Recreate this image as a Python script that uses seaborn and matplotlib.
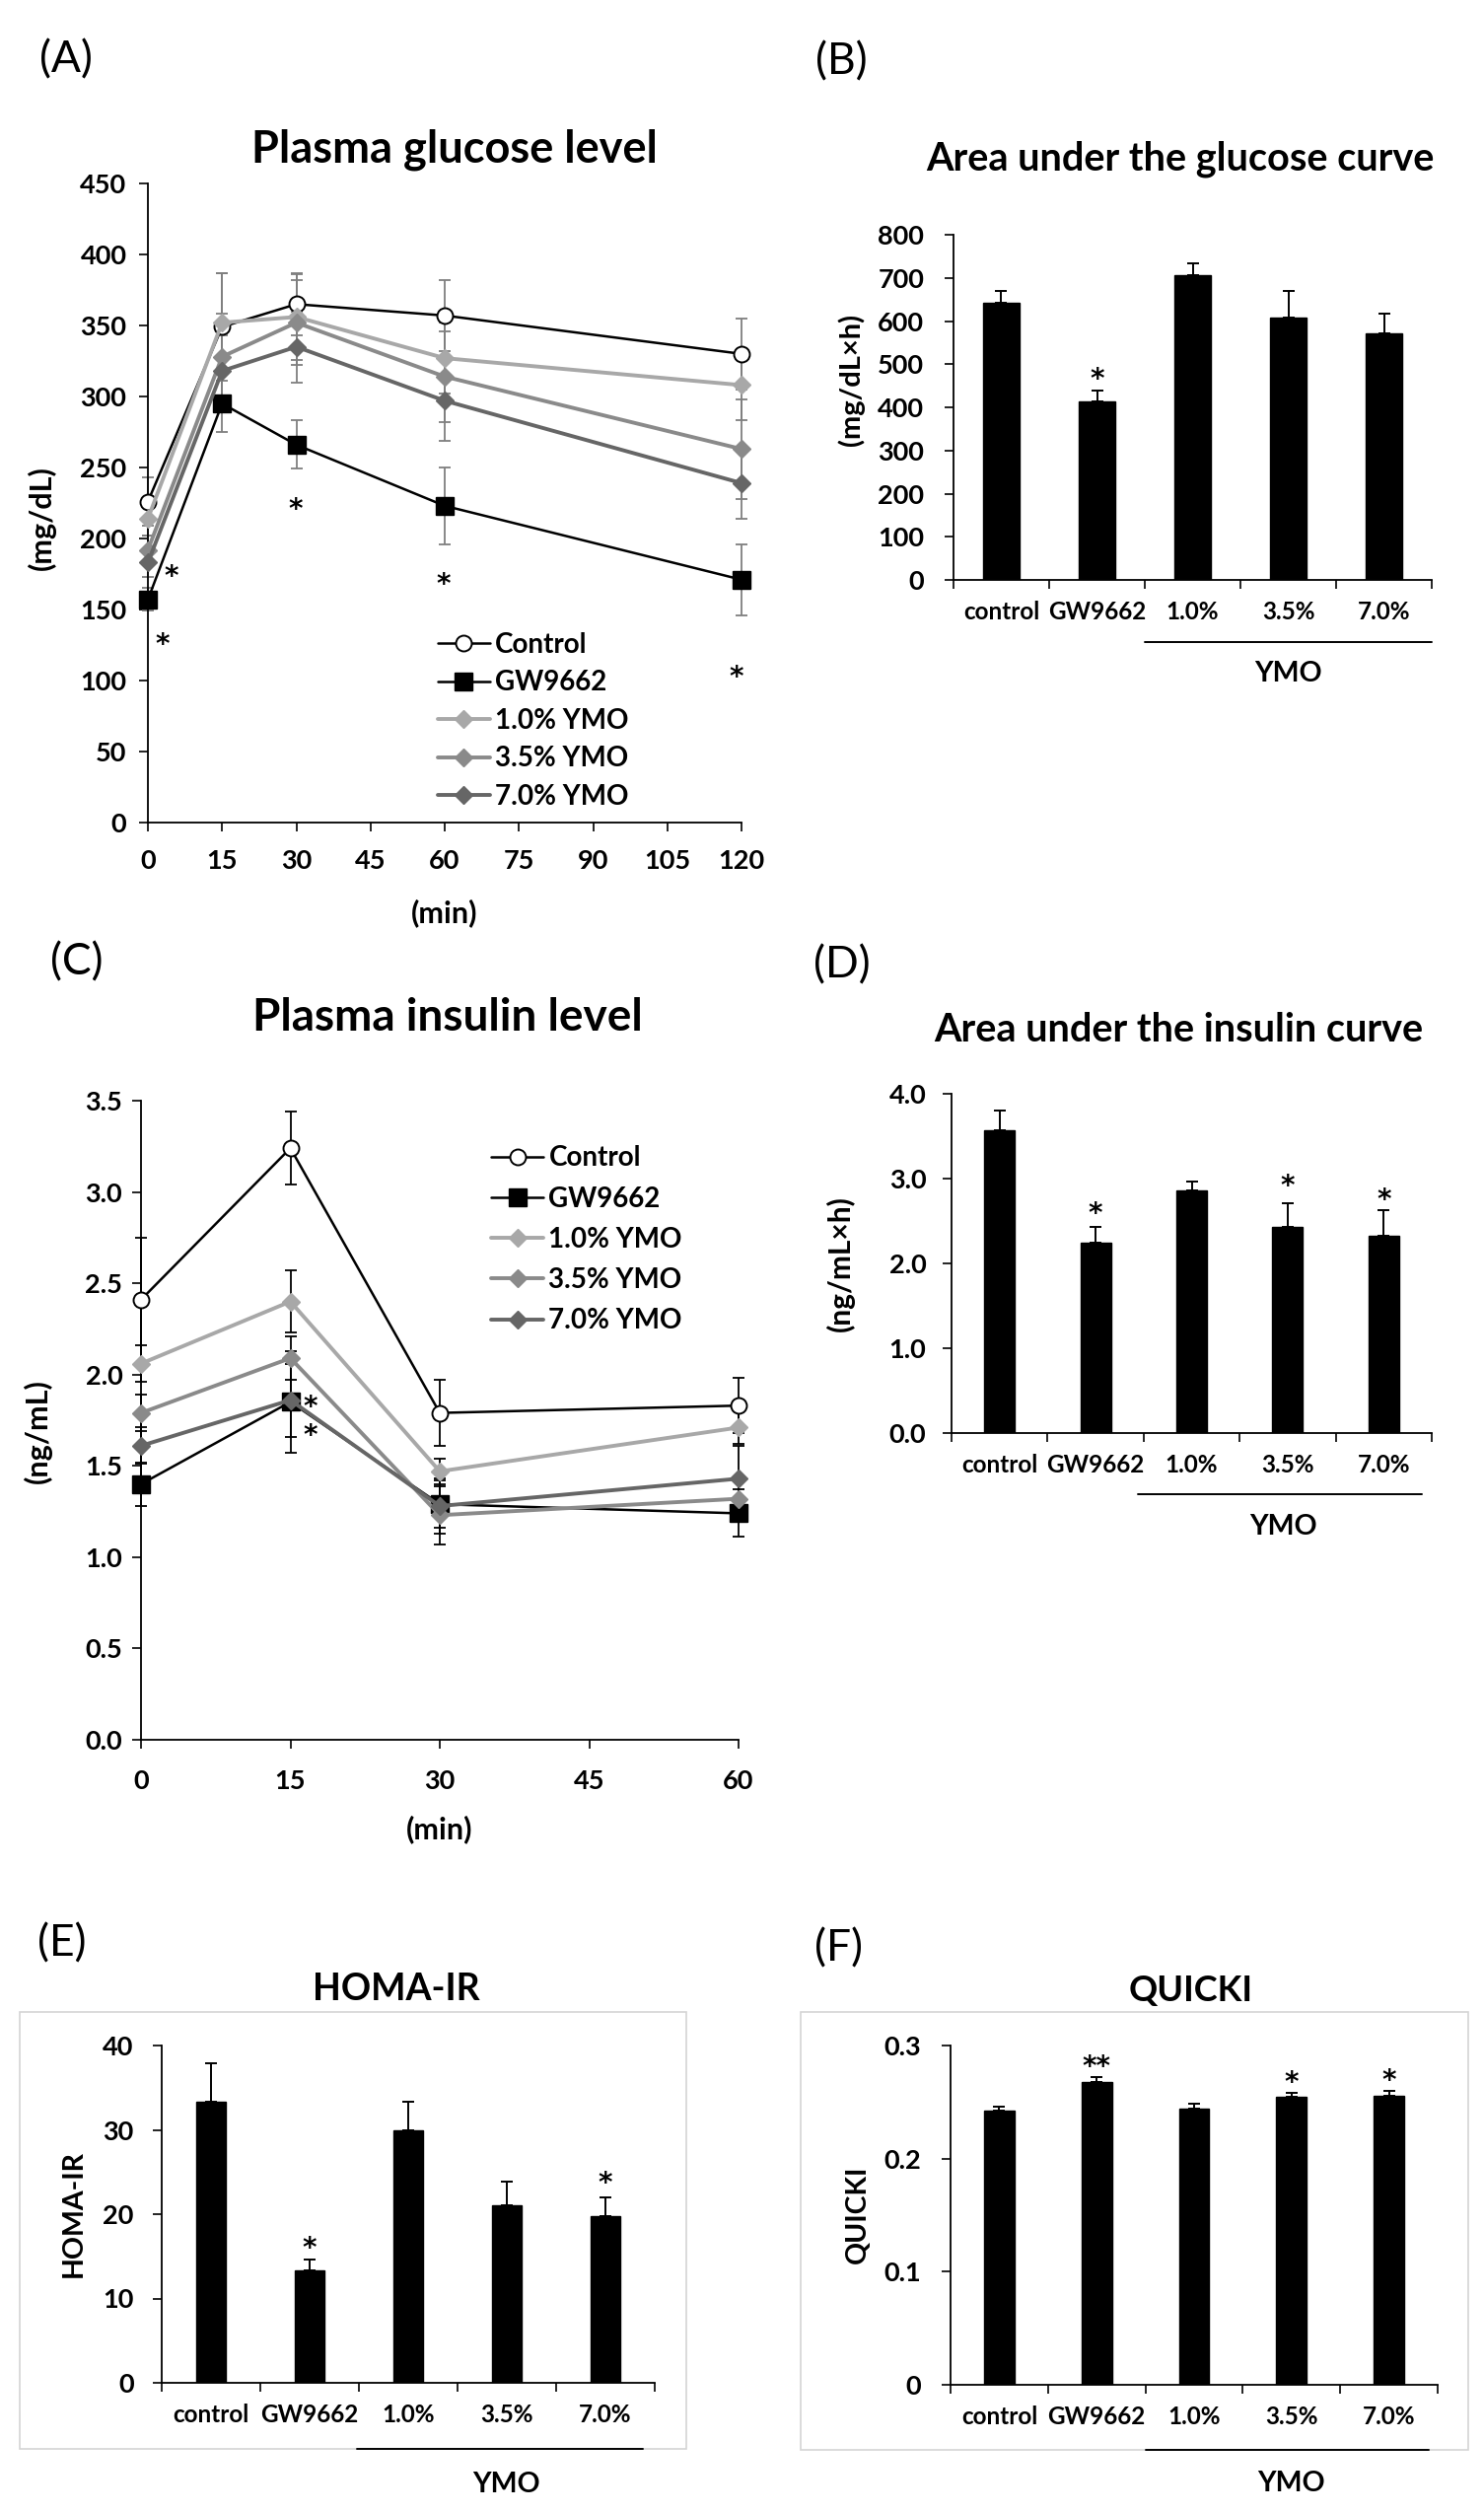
import numpy as np
import pandas as pd
import matplotlib
matplotlib.use("Agg")
import matplotlib.pyplot as plt
import matplotlib.ticker as mticker
import matplotlib.transforms as mtrans
from matplotlib.lines import Line2D
from matplotlib.patches import Rectangle
import seaborn as sns

# ---------------- data ----------------
groups = ["Control", "GW9662", "1.0% YMO", "3.5% YMO", "7.0% YMO"]
bar_labels = ["control", "GW9662", "1.0%", "3.5%", "7.0%"]

glu_time = [0, 15, 30, 60, 120]
glu_control = [226, 349, 365, 357, 330]
glu_gw = [157, 295, 266, 223, 171]
glu_y10 = [214, 352, 356, 327, 308]
glu_y35 = [192, 328, 352, 314, 263]
glu_y70 = [183, 318, 335, 297, 239]
glu_control_err = [17, 38, 22, 25, 25]
glu_gw_err = [8, 20, 17, 27, 25]
glu_y10_err = [12, 35, 30, 25, 25]
glu_y35_err = [10, 30, 30, 32, 35]
glu_y70_err = [10, 25, 25, 28, 25]
glu_star_x = [4.8, 3.0, 29.8, 59.8, 119.0]
glu_star_y = [178, 130, 225, 172, 107]

ins_time = [0, 15, 30, 60]
ins_control = [2.41, 3.24, 1.79, 1.83]
ins_gw = [1.40, 1.85, 1.29, 1.24]
ins_y10 = [2.06, 2.40, 1.47, 1.71]
ins_y35 = [1.79, 2.09, 1.23, 1.32]
ins_y70 = [1.61, 1.86, 1.28, 1.43]
ins_control_err = [0.34, 0.20, 0.18, 0.15]
ins_gw_err = [0.12, 0.28, 0.13, 0.13]
ins_y10_err = [0.10, 0.17, 0.07, 0.09]
ins_y35_err = [0.10, 0.12, 0.16, 0.10]
ins_y70_err = [0.10, 0.20, 0.15, 0.18]
ins_star_x = [17.0, 17.0]
ins_star_y = [1.86, 1.70]

auc_glu = [643, 414, 706, 607, 571]
auc_glu_err = [26, 26, 27, 62, 46]
auc_glu_stars = {1: ("*", 481)}

auc_ins = [3.575, 2.24, 2.865, 2.43, 2.33]
auc_ins_err = [0.23, 0.19, 0.10, 0.28, 0.30]
auc_ins_stars = {1: ("*", 2.66), 3: ("*", 2.99), 4: ("*", 2.83)}

homa = [33.3, 13.3, 30.0, 21.1, 19.8]
homa_err = [4.6, 1.3, 3.3, 2.8, 2.2]
homa_stars = {1: ("*", 16.7), 4: ("*", 24.4)}

quicki = [0.2422, 0.2678, 0.2443, 0.2545, 0.2555]
quicki_err = [0.004, 0.004, 0.004, 0.004, 0.004]
quicki_stars = {1: ("**", 0.287), 3: ("*", 0.273), 4: ("*", 0.2748)}

# ---------------- style ----------------
sns.set_theme(style="white")
plt.rcParams["font.family"] = ["Lato", "DejaVu Sans"]
plt.rcParams["font.weight"] = "bold"
for k in ["text.color", "axes.labelcolor", "xtick.color", "ytick.color", "axes.edgecolor"]:
    plt.rcParams[k] = "black"

W, H = 1505, 2548
fig = plt.figure(figsize=(W / 100, H / 100), dpi=100)
fig.patch.set_facecolor("white")

STAR_FONT = dict(family=["DejaVu Sans"], fontsize=20, fontweight="bold")


def px_ax(l, t, r, b):
    return fig.add_axes([l / W, 1 - b / H, (r - l) / W, (b - t) / H])


def ftext(x, y, s, **kw):
    fig.text(x / W, 1 - y / H, s, ha="center", va="center", **kw)


def star(ax, x, y, s, tr=None):
    base = ax.transData if tr is None else tr
    t = mtrans.offset_copy(base, fig=fig, x=0, y=-5, units="points")
    ax.text(x, y, s, ha="center", va="center", transform=t, **STAR_FONT)


def base_style(ax, ypad):
    sns.despine(ax=ax)
    for sp in ["left", "bottom"]:
        ax.spines[sp].set_linewidth(1.3)
        ax.spines[sp].set_color("black")
    ax.tick_params(axis="y", which="major", direction="out", length=6.5, width=1.2,
                   labelsize=19.5, pad=ypad, left=True)
    ax.set_xlabel("")
    ax.set_ylabel("")
    ax.set_facecolor("white")


styles = {
    "Control": dict(color="black", marker="o", markerfacecolor="white", markeredgecolor="black",
                    markersize=11.5, markeredgewidth=1.4, linewidth=1.8),
    "GW9662": dict(color="black", marker="s", markerfacecolor="black", markeredgecolor="black",
                   markersize=13, markeredgewidth=1, linewidth=1.8),
    "1.0% YMO": dict(color="#A8A8A8", marker="D", markerfacecolor="#A8A8A8", markeredgecolor="#A8A8A8",
                     markersize=9, markeredgewidth=1, linewidth=2.8),
    "3.5% YMO": dict(color="#8A8A8A", marker="D", markerfacecolor="#8A8A8A", markeredgecolor="#8A8A8A",
                     markersize=9, markeredgewidth=1, linewidth=2.8),
    "7.0% YMO": dict(color="#666666", marker="D", markerfacecolor="#666666", markeredgecolor="#666666",
                     markersize=9, markeredgewidth=1, linewidth=2.8),
}


def line_panel(ax, x, series, errs, ecolor, xmax, ymax, ystep, yfmt, stars_x, stars_y,
               leg_anchor, leg_spacing, ypad, xpad):
    for i, (g, vals) in enumerate(zip(groups, series)):
        ax.errorbar(x, vals, yerr=errs[i], fmt="none", ecolor=ecolor, elinewidth=1.3,
                    capsize=4.5, capthick=1.3, zorder=2, clip_on=False)
    for i, (g, vals) in enumerate(zip(groups, series)):
        sns.lineplot(x=x, y=vals, ax=ax, errorbar=None, zorder=3 + i, clip_on=False, **styles[g])
    ax.set_xlim(0, xmax)
    ax.set_ylim(0, ymax)
    ax.set_xticks(np.arange(0, xmax + 1, 15))
    ax.set_yticks(np.arange(0, ymax + ystep / 2, ystep))
    ax.yaxis.set_major_formatter(mticker.FormatStrFormatter(yfmt))
    base_style(ax, ypad)
    ax.tick_params(axis="x", which="major", direction="out", length=6.5, width=1.2,
                   labelsize=19.5, pad=xpad, bottom=True)
    for sx, sy in zip(stars_x, stars_y):
        star(ax, sx, sy, "*")
    handles = [Line2D([], [], **styles[g]) for g in groups]
    ax.legend(handles, groups, loc="upper left", bbox_to_anchor=leg_anchor, frameon=False,
              handlelength=1.9, handletextpad=0.2, labelspacing=leg_spacing, borderpad=0,
              borderaxespad=0, prop=dict(size=20, weight="bold"))


def bar_panel(ax, vals, errs, width, ymax, ystep, fmt, stars, ypad, ymo_x, ymo_line_y, ymo_text_y,
              ymo_text_x):
    sns.barplot(x=bar_labels, y=vals, ax=ax, color="black", saturation=1, width=width,
                errorbar=None, edgecolor="black", zorder=2)
    pos = np.arange(len(vals))
    ax.errorbar(pos, vals, yerr=[np.zeros(len(vals)), errs], fmt="none", ecolor="black",
                elinewidth=1.4, capsize=4.2, capthick=1.4, zorder=3)
    ax.set_xlim(-0.5, len(vals) - 0.5)
    ax.set_ylim(0, ymax)
    ax.set_yticks(np.arange(0, ymax + ystep / 2, ystep))
    ax.yaxis.set_major_formatter(fmt)
    base_style(ax, ypad)
    ax.xaxis.set_major_locator(mticker.FixedLocator(np.arange(-0.5, len(vals), 1)))
    ax.xaxis.set_major_formatter(mticker.NullFormatter())
    ax.xaxis.set_minor_locator(mticker.FixedLocator(pos))
    ax.xaxis.set_minor_formatter(mticker.FixedFormatter(bar_labels))
    ax.tick_params(axis="x", which="major", direction="out", length=6.5, width=1.2, bottom=True)
    ax.tick_params(axis="x", which="minor", length=0, pad=15, labelsize=17.5, bottom=True)
    for k, (s, y) in stars.items():
        star(ax, k, y, s)
    tr = mtrans.blended_transform_factory(ax.transData, ax.transAxes)
    ax.plot(ymo_x, [ymo_line_y, ymo_line_y], color="black", lw=1.4, transform=tr, clip_on=False)
    ax.text(ymo_text_x, ymo_text_y, "YMO", transform=tr, ha="center", va="center",
            fontsize=20.5, fontweight="bold")


def zero_fmt(v, p):
    return "0" if abs(v) < 1e-9 else f"{v:.1f}"


# ---------------- panel A ----------------
axA = px_ax(150, 186, 752, 834)
line_panel(axA, glu_time, [glu_control, glu_gw, glu_y10, glu_y35, glu_y70],
           [glu_control_err, glu_gw_err, glu_y10_err, glu_y35_err, glu_y70_err],
           "#7F7F7F", 120, 450, 50, "%d", glu_star_x, glu_star_y,
           (0.488, 0.298), 0.45, 9, 13)
ftext(67, 61, "(A)", fontsize=32, fontweight="normal")
ftext(461, 152, "Plasma glucose level", fontsize=32.5, fontweight="bold")
ftext(42, 525, "(mg/dL)", fontsize=22, fontweight="bold", rotation=90)
ftext(451, 926, "(min)", fontsize=22, fontweight="bold")

# ---------------- panel C ----------------
axC = px_ax(143, 1116, 749, 1764)
line_panel(axC, ins_time, [ins_control, ins_gw, ins_y10, ins_y35, ins_y70],
           [ins_control_err, ins_gw_err, ins_y10_err, ins_y35_err, ins_y70_err],
           "black", 60, 3.5, 0.5, "%.1f", ins_star_x, ins_star_y,
           (0.586, 0.93), 0.55, 7, 15)
ftext(78, 976, "(C)", fontsize=32, fontweight="normal")
ftext(454, 1032, "Plasma insulin level", fontsize=33, fontweight="bold")
ftext(38, 1451, "(ng/mL)", fontsize=22, fontweight="bold", rotation=90)
ftext(446, 1855, "(min)", fontsize=22, fontweight="bold")

# ---------------- panel B ----------------
axB = px_ax(967, 238, 1452, 588)
bar_panel(axB, auc_glu, auc_glu_err, 0.39, 800, 100, mticker.FormatStrFormatter("%d"),
          auc_glu_stars, 15, [1.5, 4.5], -0.18, -0.27, 3.0)
ftext(853, 63, "(B)", fontsize=32, fontweight="normal")
ftext(1197, 161, "Area under the glucose curve", fontsize=28.5, fontweight="bold")
ftext(863, 385, "(mg/dL\u00d7h)", fontsize=21, fontweight="bold", rotation=90)

# ---------------- panel D ----------------
axD = px_ax(965, 1109, 1452, 1453)
bar_panel(axD, auc_ins, auc_ins_err, 0.32, 4.0, 1.0, mticker.FormatStrFormatter("%.1f"),
          auc_ins_stars, 12, [1.44, 4.4], -0.18, -0.275, 2.95)
ftext(854, 979, "(D)", fontsize=32, fontweight="normal")
ftext(1195, 1044, "Area under the insulin curve", fontsize=28.5, fontweight="bold")
ftext(852, 1281, "(ng/mL\u00d7h)", fontsize=21.5, fontweight="bold", rotation=90)

# ---------------- panel E ----------------
axE = px_ax(164, 2074, 664, 2416)
bar_panel(axE, homa, homa_err, 0.30, 40, 10, mticker.FormatStrFormatter("%d"),
          homa_stars, 14, [1.48, 4.38], -0.196, -0.30, 2.99)
fig.add_artist(Rectangle((20 / W, 1 - 2483 / H), 676 / W, 443 / H, transform=fig.transFigure,
                         fill=False, ec="#D4D4D4", lw=1.2, zorder=0))
ftext(63, 1971, "(E)", fontsize=32, fontweight="normal")
ftext(402, 2017, "HOMA-IR", fontsize=27, fontweight="bold")
ftext(75, 2245, "HOMA-IR", fontsize=20.5, fontweight="bold", rotation=90)

# ---------------- panel F ----------------
axF = px_ax(964, 2074, 1458, 2418)
bar_panel(axF, quicki, quicki_err, 0.31, 0.3, 0.1, mticker.FuncFormatter(zero_fmt),
          quicki_stars, 15, [1.5, 4.41], -0.192, -0.29, 3.0)
fig.add_artist(Rectangle((812 / W, 1 - 2484 / H), 677 / W, 444 / H, transform=fig.transFigure,
                         fill=False, ec="#D4D4D4", lw=1.2, zorder=0))
ftext(851, 1976, "(F)", fontsize=32, fontweight="normal")
ftext(1208, 2018, "QUICKI", fontsize=26, fontweight="bold")
ftext(870, 2245, "QUICKI", fontsize=20.5, fontweight="bold", rotation=90)

fig.savefig("out.png", dpi=100, facecolor="white")
